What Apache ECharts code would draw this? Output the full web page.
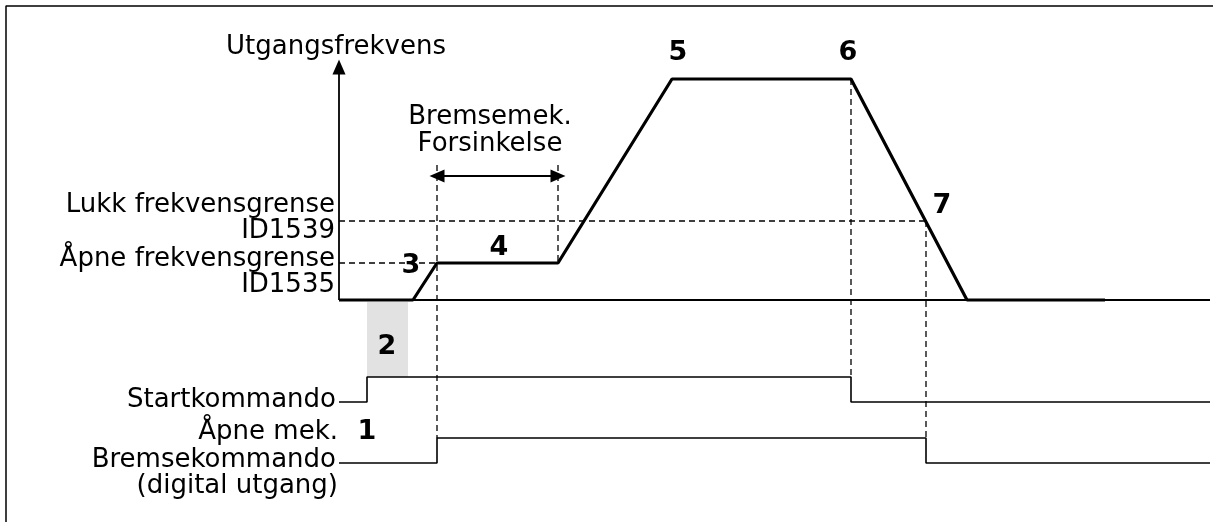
<!DOCTYPE html>
<html>
<head>
<meta charset="utf-8">
<script src="https://cdn.jsdelivr.net/npm/echarts@6/dist/echarts.min.js"></script>
<style>
  html, body { margin: 0; padding: 0; background: #fff; }
  #chart { width: 1213px; height: 522px; }
</style>
</head>
<body>
<div id="chart"></div>
<script>
// time instants along x (diagram units)
var tAxis = 339, tStart = 367, tRamp = 413, tOpen = 437, tDelayEnd = 558
var tTop = 672, tStop = 851, tClose = 926, tZero = 967, tRunEnd = 1105, tEnd = 1210
// levels along y (diagram units, downwards)
var yZero = 300, yOpenLim = 263, yCloseLim = 221, yMax = 79, yAxisTop = 67
var startLow = 402, startHigh = 377, brakeLow = 463, brakeHigh = 438

// output frequency curve
var freqCurve = [[tAxis, yZero], [tRamp, yZero], [tOpen, yOpenLim], [tDelayEnd, yOpenLim],
  [tTop, yMax], [tStop, yMax], [tZero, yZero], [tRunEnd, yZero]]
var baseLine = [[tAxis, yZero], [tEnd, yZero]]
var startCmd = [[tAxis, startLow], [tStart, startLow], [tStart, startHigh], [tStop, startHigh],
  [tStop, startLow], [tEnd, startLow]]
var brakeCmd = [[tAxis, brakeLow], [tOpen, brakeLow], [tOpen, brakeHigh], [tClose, brakeHigh],
  [tClose, brakeLow], [tEnd, brakeLow]]

// dashed helper lines
var dashLines = [
  [[tAxis, yOpenLim], [tOpen, yOpenLim]],
  [[tAxis, yCloseLim], [tClose, yCloseLim]],
  [[tOpen, 165], [tOpen, brakeHigh]],
  [[tDelayEnd, 165], [tDelayEnd, yOpenLim]],
  [[tStop, yMax], [tStop, startHigh]],
  [[tClose, yCloseLim], [tClose, brakeHigh]]
]

// text labels: [x, y, text, align]
var plainLabels = [
  [336, 47, 'Utgangsfrekvens', 'center'],
  [490, 117, 'Bremsemek.', 'center'],
  [490, 144, 'Forsinkelse', 'center'],
  [335, 205, 'Lukk frekvensgrense', 'right'],
  [335, 231, 'ID1539', 'right'],
  [335, 259, 'Åpne frekvensgrense', 'right'],
  [335, 285, 'ID1535', 'right'],
  [336, 400, 'Startkommando', 'right'],
  [338, 432, 'Åpne mek.', 'right'],
  [336, 460, 'Bremsekommando', 'right'],
  [338, 486, '(digital utgang)', 'right']
]
var stepLabels = [
  [367, 432, '1'], [387, 347, '2'], [411, 266, '3'], [499, 248, '4'],
  [678, 53, '5'], [848, 53, '6'], [942, 206, '7']
]

var chart = echarts.init(document.getElementById('chart'))

function lineSeries (data, width, dashed) {
  return {
    type: 'line',
    data: data,
    symbol: 'none',
    silent: true,
    animation: false,
    lineStyle: { color: '#000', width: width, type: dashed ? [6, 4] : 'solid' }
  }
}

var series = [
  // frame
  lineSeries([[6, 522], [6, 6], [1213, 6]], 1.5),
  lineSeries(baseLine, 1.8),
  lineSeries(startCmd, 1.6),
  lineSeries(brakeCmd, 1.6),
  lineSeries(freqCurve, 3.2)
]
dashLines.forEach(function (d) { series.push(lineSeries(d, 1.3, true)) })

// grey delay box, y axis arrow and delay arrow
series.push({
  type: 'line',
  data: [],
  silent: true,
  animation: false,
  markArea: {
    silent: true,
    itemStyle: { color: '#e2e2e2', opacity: 1 },
    data: [[{ coord: [tStart, yZero + 2] }, { coord: [408, startHigh] }]]
  },
  markLine: {
    silent: true,
    symbol: ['none', 'triangle'],
    symbolSize: [13, 15],
    label: { show: false },
    lineStyle: { color: '#000', width: 1.8, type: 'solid', opacity: 1 },
    data: [
      [{ coord: [tAxis, yZero] }, { coord: [tAxis, yAxisTop] }],
      [{ coord: [tOpen, 176], symbol: 'triangle' }, { coord: [tDelayEnd, 176] }]
    ]
  }
})

function textItem (x, y, text, align, size, bold) {
  return {
    value: [x, y],
    label: {
      show: true,
      position: 'inside',
      formatter: text,
      align: align,
      verticalAlign: 'middle',
      color: '#000',
      fontSize: size,
      fontWeight: bold ? 'bold' : 'normal',
      fontFamily: 'DejaVu Sans'
    }
  }
}

series.push({
  type: 'scatter',
  symbolSize: 0,
  silent: true,
  animation: false,
  itemStyle: { opacity: 1 },
  data: plainLabels.map(function (d) { return textItem(d[0], d[1], d[2], d[3], 26, false) })
    .concat(stepLabels.map(function (d) { return textItem(d[0], d[1], d[2], 'center', 27, true) }))
})

var option = {
  backgroundColor: '#fff',
  grid: { left: 0, right: 0, top: 0, bottom: 0 },
  xAxis: { type: 'value', min: 0, max: 1213, show: false },
  yAxis: { type: 'value', min: 0, max: 522, inverse: true, show: false },
  series: series
}
chart.setOption(option)
</script>
</body>
</html>
